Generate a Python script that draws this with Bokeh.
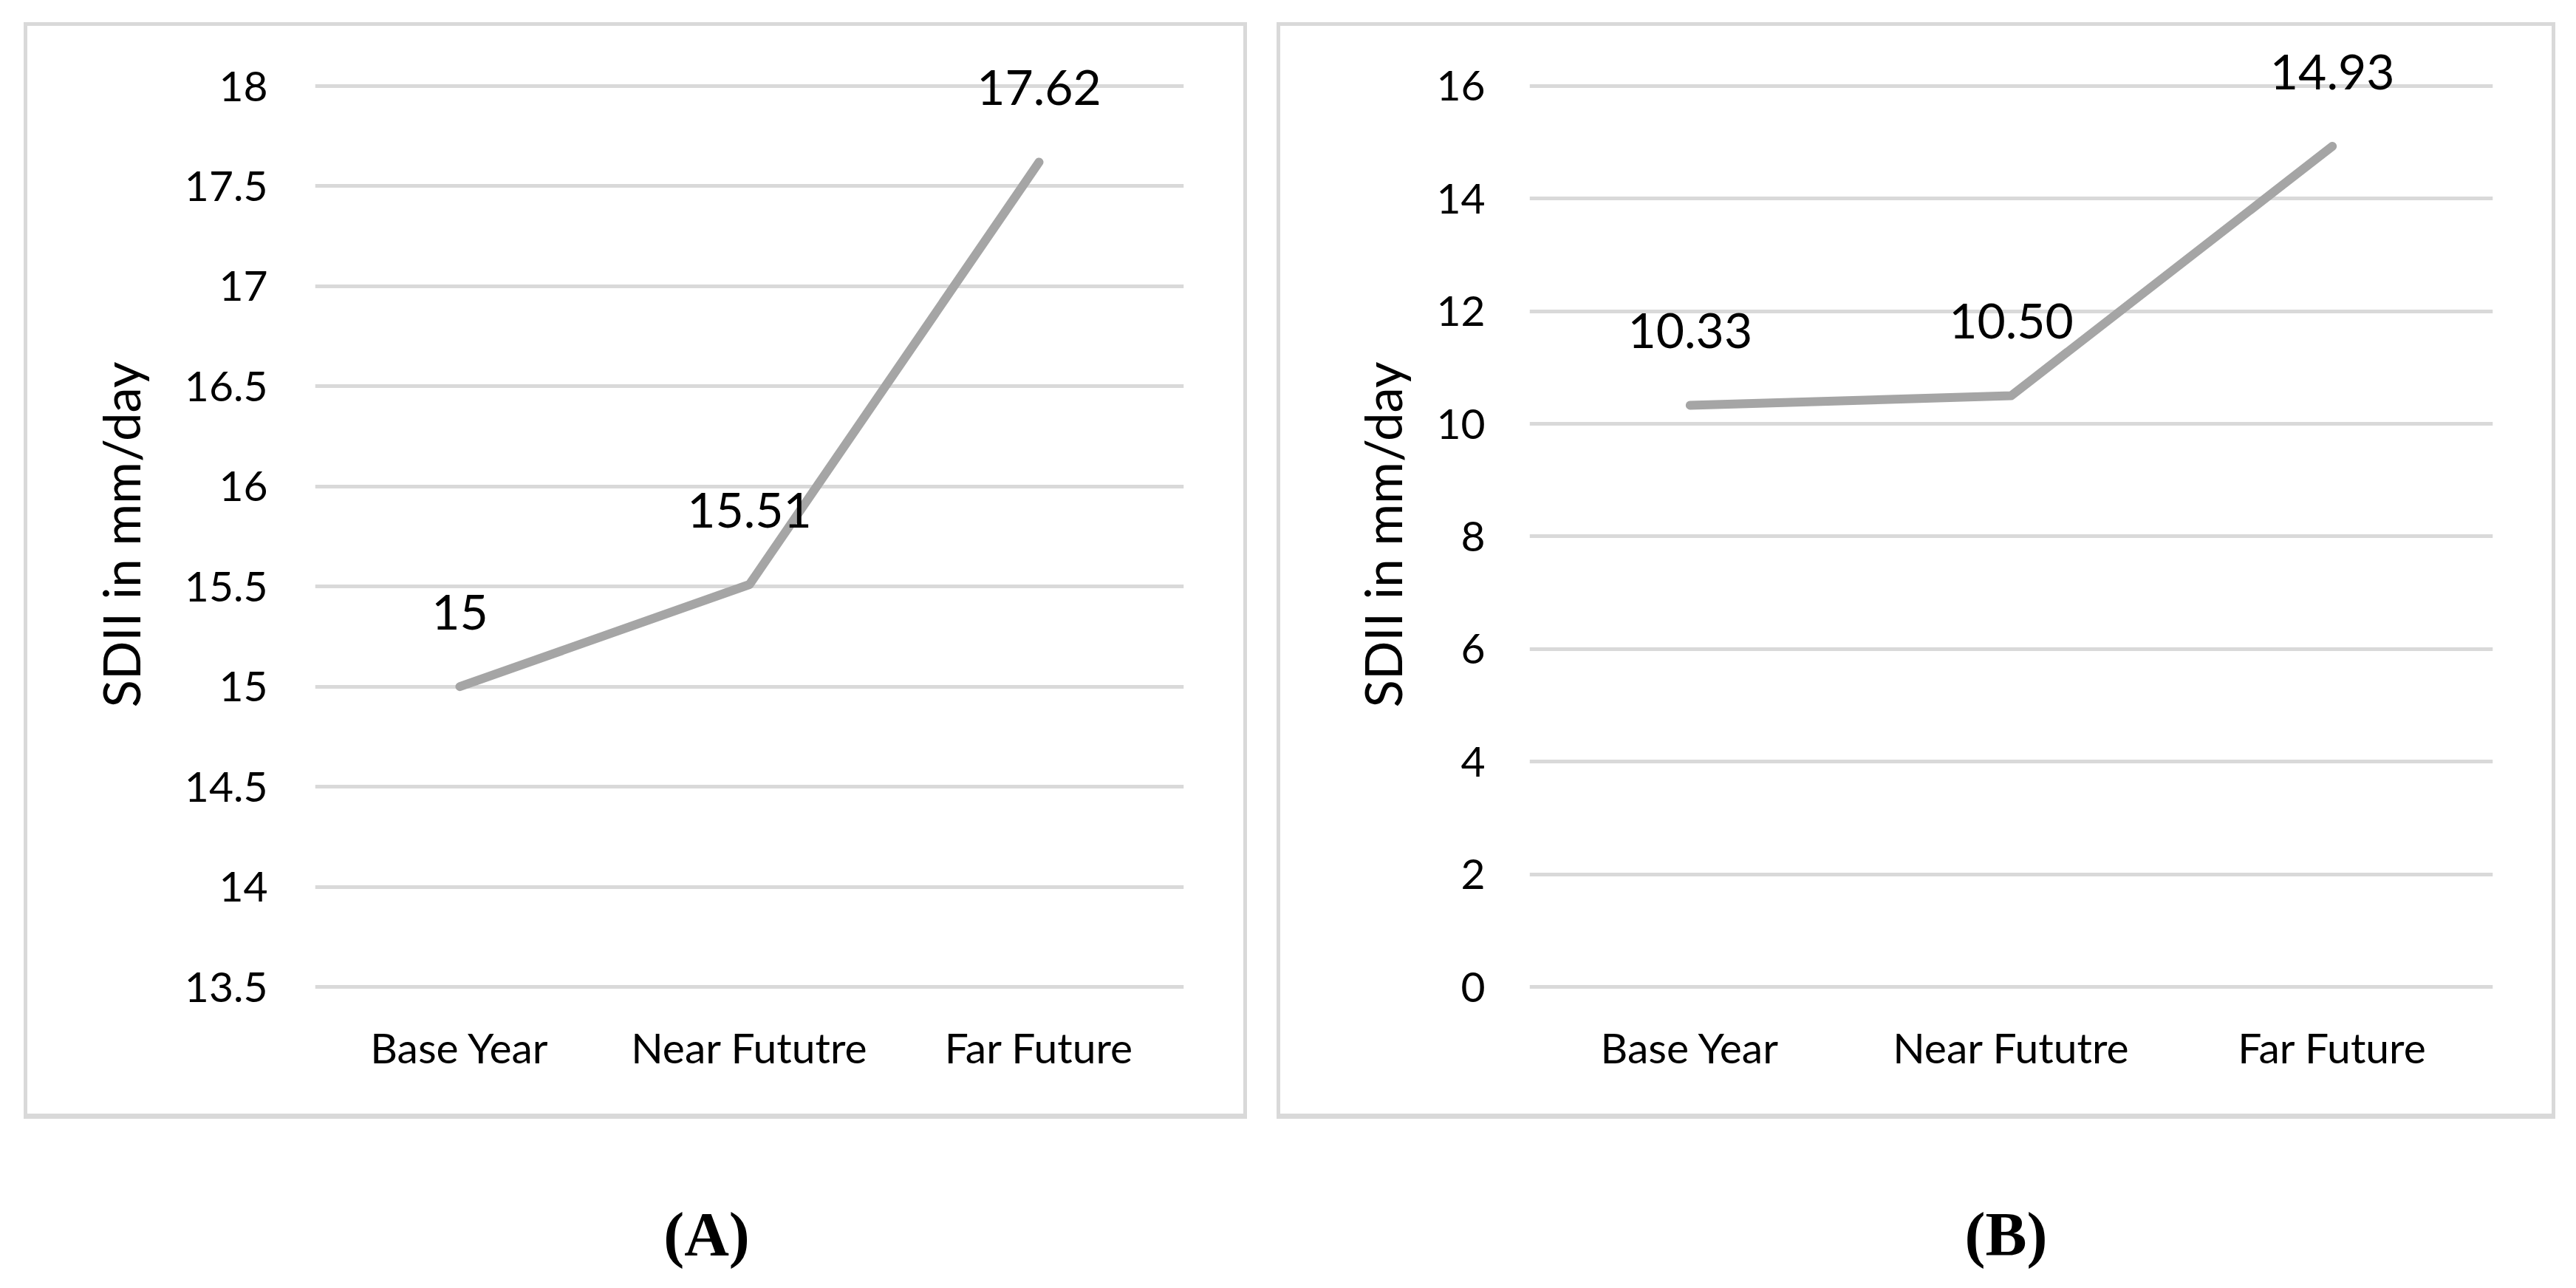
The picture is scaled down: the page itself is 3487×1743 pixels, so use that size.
from bokeh.plotting import figure
from bokeh.layouts import row, column
from bokeh.models import Range1d, FixedTicker, NumeralTickFormatter, Label, ColumnDataSource
from bokeh.core.properties import value
from bokeh.embed import file_html
from bokeh.resources import INLINE

# ---- data ----
categories = ["Base Year", "Near Fututre", "Far Future"]
sdii_a = [15.0, 15.51, 17.62]
labels_a = ["15", "15.51", "17.62"]
sdii_b = [10.33, 10.50, 14.93]
labels_b = ["10.33", "10.50", "14.93"]
ticks_a = [13.5, 14, 14.5, 15, 15.5, 16, 16.5, 17, 17.5, 18]
ticks_b = [0, 2, 4, 6, 8, 10, 12, 14, 16]
y_title = "SDII in mm/day"
captions = ["(A)", "(B)"]

GRID = "#D9D9D9"
LINE = "#A5A5A5"
FONT = "Lato"
BOX_STYLE = {"border": "5px solid #D9D9D9", "border-bottom": "7px solid #D9D9D9",
             "box-sizing": "content-box"}


def make_panel(vals, labels, ticks, yr, fmt, width, mbl, mbr, tick_standoff,
               title_standoff, margin):
    p = figure(x_range=categories, y_range=Range1d(*yr), width=width, height=1472,
               output_backend="svg", toolbar_location=None,
               min_border_left=mbl, min_border_right=mbr,
               min_border_top=5, min_border_bottom=113,
               styles=BOX_STYLE, margin=margin)
    p.x_range.range_padding = 0
    p.outline_line_color = None
    p.background_fill_color = "white"
    p.border_fill_color = "white"
    p.xgrid.grid_line_color = None
    p.ygrid.grid_line_color = GRID
    p.ygrid.grid_line_width = 5
    p.yaxis.ticker = FixedTicker(ticks=ticks)
    p.yaxis.formatter = NumeralTickFormatter(format=fmt)
    for ax in (p.xaxis[0], p.yaxis[0]):
        ax.axis_line_color = None
        ax.major_tick_line_color = None
        ax.minor_tick_line_color = None
        ax.major_tick_out = 0
        ax.major_tick_in = 0
        ax.major_label_text_font = FONT
        ax.major_label_text_font_size = "57px"
        ax.major_label_text_color = "black"
    p.yaxis.major_label_standoff = tick_standoff
    p.xaxis.major_label_standoff = -24
    p.yaxis.axis_label = y_title
    p.yaxis.axis_label_text_font = FONT
    p.yaxis.axis_label_text_font_size = "69px"
    p.yaxis.axis_label_text_font_style = "normal"
    p.yaxis.axis_label_standoff = title_standoff
    p.yaxis.axis_label_text_color = "black"

    src = ColumnDataSource(dict(cat=categories, val=vals, lab=labels))
    p.line("cat", "val", source=src, line_color=LINE, line_width=12,
           line_cap="round", line_join="round")
    p.text("cat", "val", text="lab", source=src, text_font=value(FONT),
           text_font_size=value("66px"), text_align="center",
           text_baseline="alphabetic", y_offset=-101, text_color="black")
    return p


pa = make_panel(sdii_a, labels_a, ticks_a, (13.2379, 18.2806), "0.[0]", 1646, 389, 91,
                64, 42, (30, 0, 0, 32))
pb = make_panel(sdii_b, labels_b, ticks_b, (-0.9319, 16.9975), "0", 1721, 337, 90,
                60, 28, (30, 0, 0, 40))

# caption strip below the two panels
CW, CH = 3470, 220
cap = figure(width=CW, height=CH, x_range=Range1d(0, CW), y_range=Range1d(0, CH),
             output_backend="svg", toolbar_location=None,
             x_axis_type=None, y_axis_type=None, min_border=0)
cap.outline_line_color = None
cap.xgrid.visible = False
cap.ygrid.visible = False
for cx, txt in zip([956, 2715], captions):
    cap.add_layout(Label(x=cx, y=CH - 156, text=txt, text_font="Liberation Serif",
                         text_font_style="bold", text_font_size="84px",
                         text_align="center", text_baseline="middle",
                         text_color="black"))

layout = column(row(pa, pb), cap)
open("out.html", "w").write(file_html(layout, INLINE))
